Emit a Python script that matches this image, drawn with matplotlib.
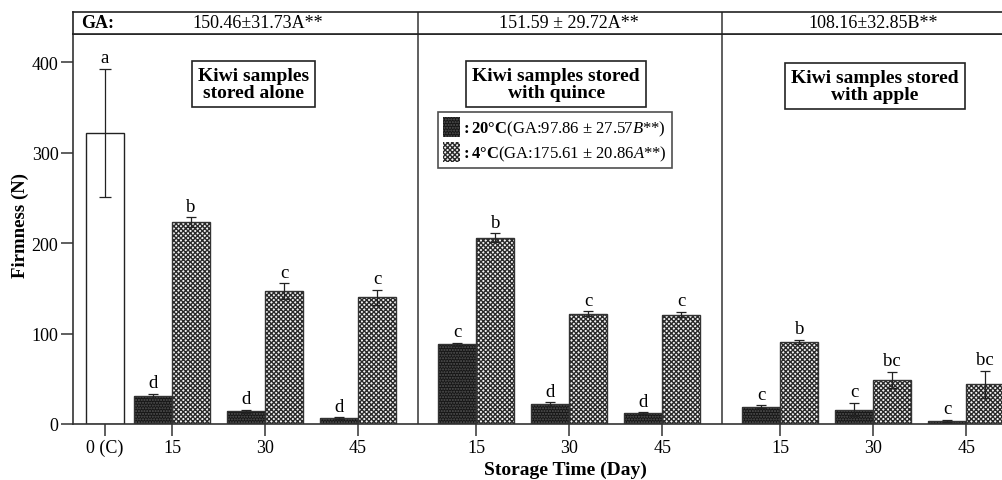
import matplotlib
matplotlib.use("Agg")
import matplotlib.pyplot as plt
from matplotlib.patches import Patch

# ---------------- data ----------------
day_labels = ['15', '30', '45']
control_label = '0 (C)'
control_mean = 322
control_err = 71
control_letter = 'a'

panel_titles = ['Kiwi samples\nstored alone',
                'Kiwi samples stored\nwith quince',
                'Kiwi samples stored\nwith apple']
panel_ga = ['150.46±31.73A**', '151.59 ± 29.72A**', '108.16±32.85B**']

warm_mean = [[31, 14, 6.5], [88, 22, 12], [19, 16, 3.5]]        # 20 °C
warm_err = [[2, 1.5, 1], [1.5, 2, 1], [1.5, 7, 0.8]]
warm_letters = [['d', 'd', 'd'], ['c', 'd', 'd'], ['c', 'c', 'c']]

cold_mean = [[223, 147, 140], [206, 122, 121], [91, 49, 44]]    # 4 °C
cold_err = [[5.5, 8.5, 8.5], [5, 2.5, 3], [2, 9, 15]]
cold_letters = [['b', 'c', 'c'], ['b', 'c', 'c'], ['b', 'bc', 'bc']]

legend_warm = r'$\mathbf{:20°C}$(GA:97.86 ± 27.57$\mathit{B}$**)'
legend_cold = r'$\mathbf{:4°C}$(GA:175.61 ± 20.86$\mathit{A}$**)'
yticks = [0, 100, 200, 300, 400]

# ---------------- style ----------------
plt.rcParams['font.family'] = ['Liberation Serif', 'DejaVu Serif']
plt.rcParams['mathtext.fontset'] = 'custom'
plt.rcParams['mathtext.rm'] = 'Liberation Serif'
plt.rcParams['mathtext.bf'] = 'Liberation Serif:bold'
plt.rcParams['mathtext.it'] = 'Liberation Serif:italic'
plt.rcParams['hatch.linewidth'] = 1.0

W, H = 1003, 481
fig = plt.figure(figsize=(W / 100, H / 100), dpi=100)

def fx(px):
    return px / W

def fy(py):
    return 1 - py / H

ax = fig.add_axes([fx(73), fy(425), fx(1003) - fx(73), fy(35) - fy(425)])
axh = fig.add_axes([fx(73), fy(35), fx(1003) - fx(73), fy(13) - fy(35)])

P = 3.27          # panel pitch in tick units
bw = 0.41         # bar width
xmin, xmax = -1.0645, 8.935
ymax = 431.4

warm_face, warm_hatch, warm_pat = '#161616', '#555555', '......'
cold_face, cold_hatch, cold_pat = '#f4f4f4', '#2a2a2a', 'xxxxxxx'

def hbar(x, h, face, hcol, hatch):
    ax.bar(x, h, bw, color=face, edgecolor='none', zorder=2)
    ax.bar(x, h, bw, color='none', edgecolor=hcol, hatch=hatch, linewidth=0, zorder=2)
    ax.bar(x, h, bw, color='none', edgecolor='#333333', linewidth=1, zorder=3)

def letter(x, y, s):
    ax.text(x, y + 3, s, ha='center', va='bottom', fontsize=13.5)

# control bar
cx = -0.72
ax.bar(cx, control_mean, bw, color='white', edgecolor='#222222', linewidth=1, zorder=2)
ax.errorbar(cx, control_mean, yerr=control_err, fmt='none', ecolor='#222222',
            elinewidth=0.9, capsize=4, capthick=0.9, zorder=4)
letter(cx, control_mean + control_err, control_letter)

tick_pos = [cx]
tick_lab = [control_label]
for p in range(3):
    for j in range(3):
        t = p * P + j
        tick_pos.append(t)
        tick_lab.append(day_labels[j])
        xw, xc = t - bw / 2, t + bw / 2
        hbar(xw, warm_mean[p][j], warm_face, warm_hatch, warm_pat)
        hbar(xc, cold_mean[p][j], cold_face, cold_hatch, cold_pat)
        ax.errorbar([xw, xc], [warm_mean[p][j], cold_mean[p][j]],
                    yerr=[warm_err[p][j], cold_err[p][j]], fmt='none',
                    ecolor='#222222', elinewidth=0.9, capsize=3.5, capthick=0.9, zorder=4)
        letter(xw, warm_mean[p][j] + warm_err[p][j], warm_letters[p][j])
        letter(xc, cold_mean[p][j] + cold_err[p][j], cold_letters[p][j])

dividers = [P - 0.625, 2 * P - 0.625]
for d in dividers:
    ax.axvline(d, color='#444444', lw=1.2, zorder=1)
    axh.axvline(d, color='#444444', lw=1.2)

ax.set_xlim(xmin, xmax)
ax.set_ylim(0, ymax)
ax.set_yticks(yticks)
ax.set_yticklabels([str(v) for v in yticks], fontsize=13)
ax.set_xticks(tick_pos)
ax.set_xticklabels(tick_lab, fontsize=13)
ax.tick_params(axis='both', direction='out', length=8.5, width=1.1, color='#333333', pad=2)
for s in ['left', 'bottom', 'top']:
    ax.spines[s].set_linewidth(1.2)
    ax.spines[s].set_color('#333333')
ax.spines['right'].set_visible(False)

# panel title boxes
box_kw = dict(boxstyle='square,pad=0.3', facecolor='white', edgecolor='#222222', linewidth=1.2)
title_pos = [(0.876, 376), (4.13, 376), (7.56, 374)]
for (tx, ty), s in zip(title_pos, panel_titles):
    ax.text(tx, ty, s, ha='center', va='center', fontsize=14, fontweight='bold',
            linespacing=1.05, bbox=box_kw, zorder=5)

# header band
axh.set_xlim(xmin, xmax)
axh.set_ylim(0, 1)
axh.set_xticks([])
axh.set_yticks([])
for s in ['left', 'bottom', 'top']:
    axh.spines[s].set_linewidth(1.2)
    axh.spines[s].set_color('#222222')
axh.spines['right'].set_visible(False)
axh.text(-0.98, 0.5, 'GA:', fontsize=13, fontweight='bold', ha='left', va='center')
ga_x = [0.92, P + 1, 2 * P + 1]
for gx, s in zip(ga_x, panel_ga):
    axh.text(gx, 0.5, s, fontsize=13, ha='center', va='center')

# legend
handles = [Patch(facecolor=warm_face, edgecolor=warm_hatch, hatch=warm_pat, linewidth=0),
           Patch(facecolor=cold_face, edgecolor=cold_hatch, hatch=cold_pat, linewidth=0)]
leg = fig.legend(handles, [legend_warm, legend_cold], loc='upper left',
                 bbox_to_anchor=(fx(438), fy(113)), fontsize=12, frameon=True,
                 fancybox=False, edgecolor='#222222', handlelength=1.0, handleheight=1.5,
                 handletextpad=0.1, borderpad=0.3, labelspacing=0.2, borderaxespad=0)
leg.get_frame().set_linewidth(1.2)

fig.text(fx(20), fy(225), 'Firmness (N)', rotation=90, ha='center', va='center',
         fontsize=13.5, fontweight='bold')
fig.text(fx(565), fy(470), 'Storage Time (Day)', ha='center', va='center',
         fontsize=14, fontweight='bold')

fig.savefig('out.png', dpi=100)
